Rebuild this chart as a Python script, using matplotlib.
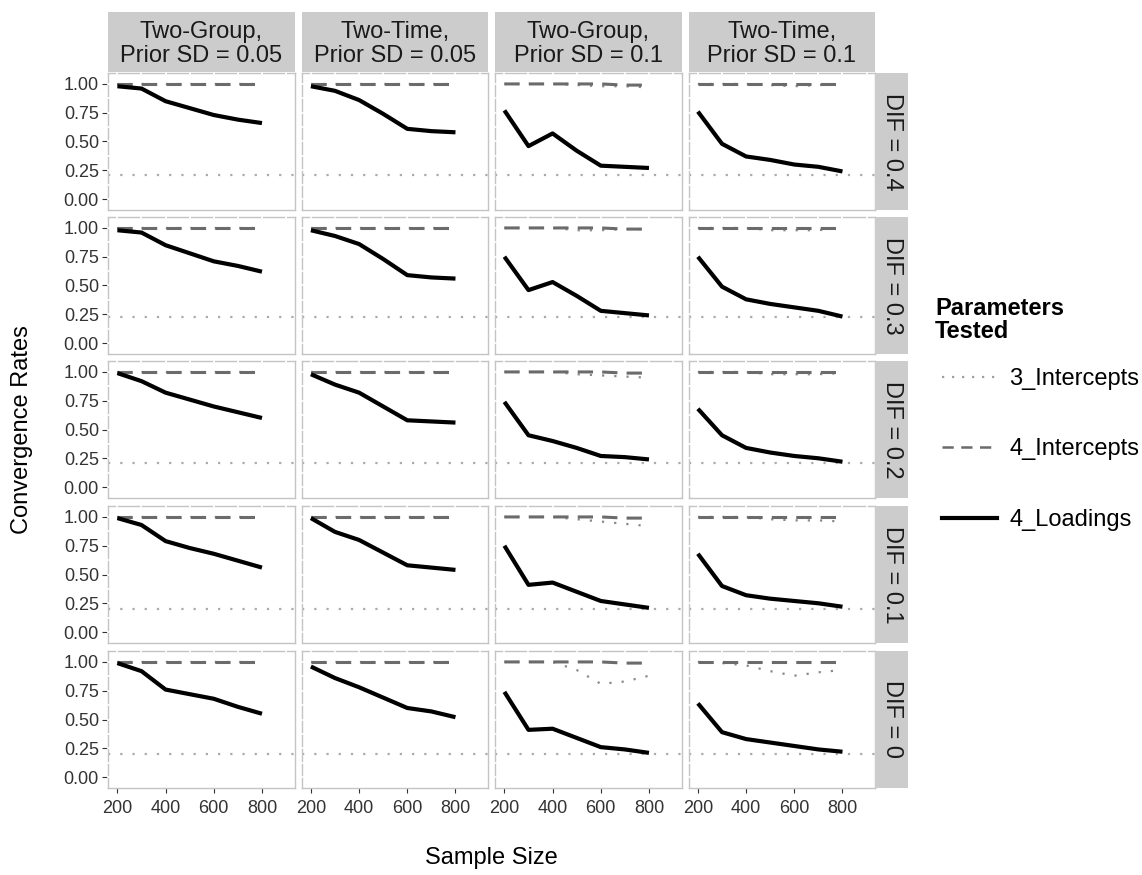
import matplotlib
matplotlib.use('Agg')
import matplotlib.pyplot as plt
from matplotlib.lines import Line2D
from matplotlib.ticker import MultipleLocator

plt.rcParams['font.family'] = ['Liberation Sans', 'DejaVu Sans']

# Facet layout: rows = DIF size, columns = design / prior SD
sample_sizes = [200, 300, 400, 500, 600, 700, 800]
col_labels = ['Two-Group,\nPrior SD = 0.05', 'Two-Time,\nPrior SD = 0.05',
              'Two-Group,\nPrior SD = 0.1', 'Two-Time,\nPrior SD = 0.1']
row_labels = ['DIF = 0.4', 'DIF = 0.3', 'DIF = 0.2', 'DIF = 0.1', 'DIF = 0']
series_names = ['3_Intercepts', '4_Intercepts', '4_Loadings']

# convergence rates, indexed [row][col]
intercepts_3 = [
    [[1.00, 1.00, 1.00, 1.00, 1.00, 1.00, 1.00], [1.00, 1.00, 1.00, 1.00, 1.00, 1.00, 1.00],
     [1.00, 1.00, 1.00, 0.99, 0.98, 0.98, 0.97], [1.00, 1.00, 1.00, 0.99, 0.98, 0.99, 1.00]],
    [[1.00, 1.00, 1.00, 1.00, 1.00, 1.00, 1.00], [1.00, 1.00, 1.00, 1.00, 1.00, 1.00, 1.00],
     [1.00, 1.00, 1.00, 0.98, 0.98, 0.99, 0.99], [1.00, 1.00, 1.00, 0.98, 0.98, 0.98, 1.00]],
    [[1.00, 1.00, 1.00, 1.00, 1.00, 1.00, 1.00], [1.00, 1.00, 1.00, 1.00, 1.00, 1.00, 1.00],
     [1.00, 1.00, 1.00, 0.98, 0.97, 0.96, 0.95], [1.00, 1.00, 1.00, 0.98, 0.98, 0.98, 0.99]],
    [[1.00, 1.00, 1.00, 1.00, 1.00, 1.00, 1.00], [1.00, 1.00, 1.00, 1.00, 1.00, 1.00, 1.00],
     [1.00, 1.00, 1.00, 0.98, 0.96, 0.94, 0.92], [1.00, 1.00, 1.00, 0.98, 0.97, 0.97, 0.96]],
    [[1.00, 1.00, 1.00, 1.00, 1.00, 1.00, 1.00], [1.00, 1.00, 1.00, 1.00, 1.00, 1.00, 1.00],
     [1.00, 1.00, 1.00, 0.93, 0.81, 0.83, 0.88], [1.00, 0.99, 0.97, 0.92, 0.88, 0.91, 0.93]],
]
intercepts_4 = [
    [[1.00, 1.00, 1.00, 1.00, 1.00, 1.00, 1.00], [1.00, 1.00, 1.00, 1.00, 1.00, 1.00, 1.00],
     [1.00, 1.00, 1.00, 1.00, 1.00, 0.99, 0.99], [1.00, 1.00, 1.00, 1.00, 1.00, 1.00, 1.00]],
    [[1.00, 1.00, 1.00, 1.00, 1.00, 1.00, 1.00], [1.00, 1.00, 1.00, 1.00, 1.00, 1.00, 1.00],
     [1.00, 1.00, 1.00, 1.00, 1.00, 0.99, 0.99], [1.00, 1.00, 1.00, 1.00, 1.00, 1.00, 1.00]],
    [[1.00, 1.00, 1.00, 1.00, 1.00, 1.00, 1.00], [1.00, 1.00, 1.00, 1.00, 1.00, 1.00, 1.00],
     [1.00, 1.00, 1.00, 1.00, 1.00, 0.99, 0.99], [1.00, 1.00, 1.00, 1.00, 1.00, 1.00, 1.00]],
    [[1.00, 1.00, 1.00, 1.00, 1.00, 1.00, 1.00], [1.00, 1.00, 1.00, 1.00, 1.00, 1.00, 1.00],
     [1.00, 1.00, 1.00, 1.00, 1.00, 0.99, 0.99], [1.00, 1.00, 1.00, 1.00, 1.00, 1.00, 1.00]],
    [[1.00, 1.00, 1.00, 1.00, 1.00, 1.00, 1.00], [1.00, 1.00, 1.00, 1.00, 1.00, 1.00, 1.00],
     [1.00, 1.00, 1.00, 1.00, 1.00, 0.99, 0.99], [1.00, 1.00, 1.00, 1.00, 1.00, 1.00, 1.00]],
]
loadings_4 = [
    [[0.98, 0.96, 0.85, 0.79, 0.73, 0.69, 0.66], [0.98, 0.94, 0.86, 0.74, 0.61, 0.59, 0.58],
     [0.77, 0.46, 0.57, 0.42, 0.29, 0.28, 0.27], [0.76, 0.48, 0.37, 0.34, 0.30, 0.28, 0.24]],
    [[0.98, 0.96, 0.85, 0.78, 0.71, 0.67, 0.62], [0.98, 0.93, 0.86, 0.73, 0.59, 0.57, 0.56],
     [0.75, 0.46, 0.53, 0.41, 0.28, 0.26, 0.24], [0.75, 0.49, 0.38, 0.34, 0.31, 0.28, 0.23]],
    [[0.99, 0.92, 0.82, 0.76, 0.70, 0.65, 0.60], [0.98, 0.89, 0.82, 0.70, 0.58, 0.57, 0.56],
     [0.74, 0.45, 0.40, 0.34, 0.27, 0.26, 0.24], [0.68, 0.45, 0.34, 0.30, 0.27, 0.25, 0.22]],
    [[0.99, 0.93, 0.79, 0.73, 0.68, 0.62, 0.56], [0.99, 0.87, 0.80, 0.69, 0.58, 0.56, 0.54],
     [0.75, 0.41, 0.43, 0.35, 0.27, 0.24, 0.21], [0.68, 0.40, 0.32, 0.29, 0.27, 0.25, 0.22]],
    [[0.99, 0.92, 0.76, 0.72, 0.68, 0.61, 0.55], [0.96, 0.86, 0.78, 0.69, 0.60, 0.57, 0.52],
     [0.74, 0.41, 0.42, 0.34, 0.26, 0.24, 0.21], [0.64, 0.39, 0.33, 0.30, 0.27, 0.24, 0.22]],
]
# reference level drawn in each row
reference_rate = [0.21, 0.23, 0.21, 0.20, 0.20]

W, H = 1142, 875
fig = plt.figure(figsize=(W / 100, H / 100), dpi=100)


def px_box(x, y, w, h):
    return [x / W, 1 - (y + h) / H, w / W, h / H]


panel_left = [108, 301.5, 495, 688.5]
panel_top = [73, 217, 361, 506, 651]
panel_w, panel_h = 186.5, 137

# dotted period is half the dash period so the dots hide under the dashes
styles = {
    '3_Intercepts': dict(color='#8a8a8a', lw=1.6, ls=(0, (1, 4.5))),
    '4_Intercepts': dict(color='#6b6b6b', lw=2.2, ls=(0, (5, 3))),
    '4_Loadings': dict(color='black', lw=3.0, ls='-'),
}
tick_color = '#333333'

for r in range(5):
    for c in range(4):
        ax = fig.add_axes(px_box(panel_left[c], panel_top[r], panel_w, panel_h))
        ax.axhline(reference_rate[r], color='#aaaaaa', lw=1.6, ls=(0, (1, 4.5)), zorder=1)
        for name, vals in zip(series_names, (intercepts_3, intercepts_4, loadings_4)):
            st = styles[name]
            ax.plot(sample_sizes, vals[r][c], color=st['color'], lw=st['lw'],
                    ls=st['ls'], solid_capstyle='butt', dash_capstyle='butt', zorder=2)
        ax.set_xlim(161, 935)
        ax.set_ylim(-0.095, 1.095)
        ax.xaxis.set_major_locator(MultipleLocator(200))
        ax.set_yticks([0, 0.25, 0.5, 0.75, 1.0])
        for sp in ax.spines.values():
            sp.set_color('#c4c4c4')
            sp.set_linewidth(1.0)
        # white grid marks where the grid meets the top and left border
        gx = [v for v in MultipleLocator(100).tick_values(161, 935) if 161 < v < 935]
        gy = [v for v in MultipleLocator(0.125).tick_values(-0.095, 1.095) if -0.095 < v < 1.095]
        ax.vlines(gx, 0.985, 1.005, transform=ax.get_xaxis_transform(),
                  color='white', lw=1.2, clip_on=False, zorder=5)
        ax.hlines(gy, -0.005, 0.012, transform=ax.get_yaxis_transform(),
                  color='white', lw=1.2, clip_on=False, zorder=5)
        ax.tick_params(colors=tick_color, length=4.5, width=0.8, labelsize=13, pad=2)
        ax.tick_params(axis='x', length=3.5, pad=5)
        if c == 0:
            ax.set_yticklabels(['0.00', '0.25', '0.50', '0.75', '1.00'])
        else:
            ax.tick_params(axis='y', left=False, labelleft=False)
        if r < 4:
            ax.tick_params(axis='x', bottom=False, labelbottom=False)

        # facet strips
        if r == 0:
            sx = fig.add_axes(px_box(panel_left[c], 12, panel_w, 60))
            sx.set_facecolor('#cccccc')
            sx.set_xticks([])
            sx.set_yticks([])
            for sp in sx.spines.values():
                sp.set_visible(False)
            sx.text(0.5, 0.47, col_labels[c], ha='center', va='center', fontsize=17,
                    color='#1a1a1a', linespacing=1.1, transform=sx.transAxes)
        if c == 3:
            sy = fig.add_axes(px_box(875, panel_top[r], 33, panel_h))
            sy.set_facecolor('#cccccc')
            sy.set_xticks([])
            sy.set_yticks([])
            for sp in sy.spines.values():
                sp.set_visible(False)
            sy.text(0.5, 0.5, row_labels[r], ha='center', va='center', fontsize=17,
                    rotation=270, color='#1a1a1a', transform=sy.transAxes)

fig.text(22 / W, 1 - 430 / H, 'Convergence Rates', rotation=90, ha='center',
         va='center', fontsize=17)
fig.text(491 / W, 1 - 858 / H, 'Sample Size', ha='center', va='center', fontsize=17)

# legend
fig.text(935 / W, 1 - 320 / H, 'Parameters\nTested', ha='left', va='center',
         fontsize=17, fontweight='bold', linespacing=1.05)
handles = [
    Line2D([], [], color='#a0a0a0', lw=1.6, ls=(0, (1, 3.5))),
    Line2D([], [], color='#6b6b6b', lw=1.8, ls=(0, (4.5, 3))),
    Line2D([], [], color='black', lw=3.0),
]
fig.legend(handles, series_names, loc='upper left', bbox_to_anchor=(942 / W, 1 - 368 / H),
           frameon=False, fontsize=17, handlelength=2.35, handletextpad=0.5,
           labelspacing=2.05, borderpad=0, borderaxespad=0)

fig.savefig('out.png', dpi=100)
